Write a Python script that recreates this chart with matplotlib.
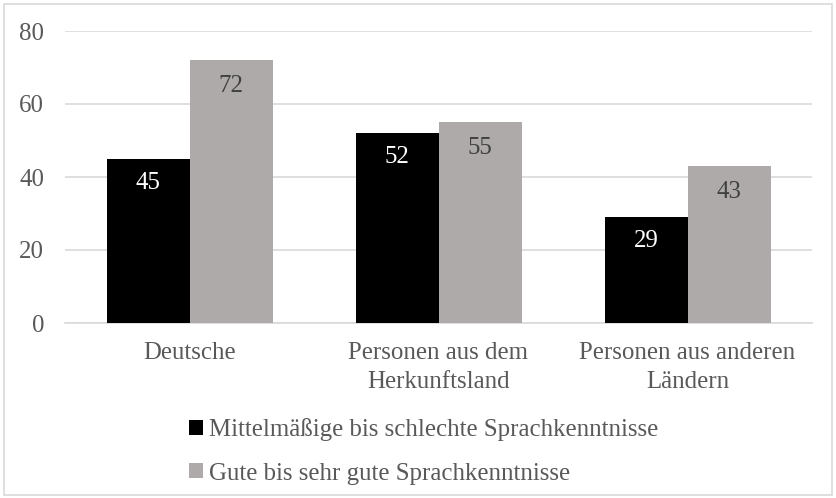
import matplotlib
matplotlib.use("Agg")
import matplotlib.pyplot as plt
from matplotlib.patches import Rectangle, Patch
import numpy as np

categories = ["Deutsche", "Personen aus dem\nHerkunftsland", "Personen aus anderen\nLändern"]
series_names = ["Mittelmäßige bis schlechte Sprachkenntnisse", "Gute bis sehr gute Sprachkenntnisse"]
mittel = [45, 52, 29]
gute = [72, 55, 43]
yticks = [0, 20, 40, 60, 80]

plt.rcParams['font.family'] = ['Liberation Serif', 'DejaVu Serif']
FS = 17.9
TXT = '#595959'
GRID = '#d9d9d9'
BLACK = '#000000'
GRAY = '#aeaaaa'

fig = plt.figure(figsize=(8.36, 4.98), dpi=100)
ax = fig.add_axes([65/836, 1-323/498, (812-65)/836, (323-31)/498])

x = np.arange(len(categories))
w = 1/3
b1 = ax.bar(x - w/2, mittel, w, color=BLACK, zorder=3)
b2 = ax.bar(x + w/2, gute, w, color=GRAY, zorder=3)

for rect, v in zip(b1, mittel):
    ax.annotate(str(v), (rect.get_x()+rect.get_width()/2, v), xytext=(0, -24),
                textcoords='offset pixels', ha='center', va='center', color='white', fontsize=FS, zorder=4)
for rect, v in zip(b2, gute):
    ax.annotate(str(v), (rect.get_x()+rect.get_width()/2, v), xytext=(0, -26),
                textcoords='offset pixels', ha='center', va='center', color='#404040', fontsize=FS, zorder=4)

ax.set_xlim(-0.5, 2.5)
ax.set_ylim(0, 80)
ax.set_yticks(yticks)
ax.set_yticklabels([str(t) for t in yticks])
ax.set_xticks(x)
ax.set_xticklabels(categories, linespacing=1.38)
ax.tick_params(axis='both', length=0, labelsize=FS, colors=TXT)
ax.tick_params(axis='y', pad=15)
ax.tick_params(axis='x', pad=14)
ax.grid(axis='y', color=GRID, linewidth=1.2, zorder=0)
for s in ['top', 'right', 'left']:
    ax.spines[s].set_visible(False)
ax.spines['bottom'].set_color(GRID)
ax.spines['bottom'].set_linewidth(1.2)

handles = [Patch(facecolor=BLACK), Patch(facecolor=GRAY)]
leg = fig.legend(handles, series_names, loc='upper center', bbox_to_anchor=(0.5 + 6/836, 1-408/498),
                 ncol=1, frameon=False, fontsize=FS, handlelength=0.55, handleheight=0.55,
                 handletextpad=0.25, labelspacing=0.87, borderaxespad=0)
for t in leg.get_texts():
    t.set_color(TXT)

fig.patches.append(Rectangle((4/836, 3/498), 828/836, 491/498, transform=fig.transFigure,
                             fill=False, edgecolor=GRID, linewidth=1.2))

fig.savefig("out.png", dpi=100)
